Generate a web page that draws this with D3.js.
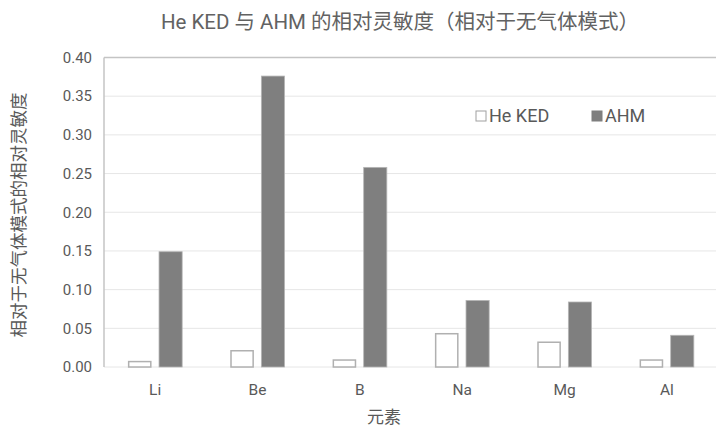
<!DOCTYPE html>
<html>
<head>
<meta charset="utf-8">
<script src="https://cdn.jsdelivr.net/npm/d3@7"></script>
<style>
  body { margin: 0; background: #fff; }
  text { font-family: Roboto, "Noto Sans CJK SC", sans-serif; fill: #595959; }
</style>
</head>
<body>
<div id="chart"></div>
<script>
// data
let elements = ["Li", "Be", "B", "Na", "Mg", "Al"];
let heKed = [0.007, 0.021, 0.009, 0.043, 0.032, 0.009];
let ahm = [0.149, 0.376, 0.258, 0.086, 0.084, 0.041];
let seriesNames = ["He KED", "AHM"];
let yTicks = [0, 0.05, 0.10, 0.15, 0.20, 0.25, 0.30, 0.35, 0.40];

let width = 716;
let height = 426;
let margin = { top: 57.5, right: -2, bottom: 59, left: 104 };

let svg = d3.select("#chart")
    .append("svg")
    .attr("width", width)
    .attr("height", height);

let innerW = width - margin.left - margin.right;
let innerH = height - margin.top - margin.bottom;

let g = svg.append("g")
    .attr("transform", "translate(" + margin.left + "," + margin.top + ")");

let x = d3.scaleBand()
    .domain(elements)
    .range([0, innerW]);

let x1 = d3.scaleBand()
    .domain(seriesNames)
    .range([0, 54])
    .paddingInner(0.25);

let y = d3.scaleLinear()
    .domain([0, 0.4])
    .range([innerH, 0]);

// gridlines
g.selectAll(".grid")
    .data(yTicks)
    .enter()
    .append("line")
    .attr("x1", 0)
    .attr("x2", innerW)
    .attr("y1", d => y(d))
    .attr("y2", d => y(d))
    .style("stroke", d => d === 0.4 ? "#c4c4c4" : "#e6e6e6")
    .style("stroke-width", d => d === 0.4 ? 1.5 : 1);

// left border
g.append("line")
    .attr("x1", 0).attr("x2", 0)
    .attr("y1", 0).attr("y2", innerH)
    .style("stroke", "#c4c4c4")
    .style("stroke-width", 1.5);

// y tick labels
g.append("g")
    .attr("transform", "translate(-12,0)")
    .selectAll("text")
    .data(yTicks)
    .enter()
    .append("text")
    .attr("y", d => y(d))
    .attr("dy", "0.35em")
    .attr("text-anchor", "end")
    .style("font-size", "15px")
    .text(d => d.toFixed(2));

// x tick labels
g.append("g")
    .selectAll("text")
    .data(elements)
    .enter()
    .append("text")
    .attr("x", d => x(d) + x.bandwidth() / 2)
    .attr("y", innerH + 28)
    .attr("text-anchor", "middle")
    .style("font-size", "15.5px")
    .text(d => d);

// bars
let groups = g.selectAll(".grp")
    .data(elements)
    .enter()
    .append("g")
    .attr("transform", d => "translate(" + (x(d) + x.bandwidth() / 2 - 27) + ",0)");

groups.append("rect")
    .attr("x", x1("He KED") + 0.5)
    .attr("y", (d, i) => y(heKed[i]))
    .attr("width", x1.bandwidth() - 1)
    .attr("height", (d, i) => innerH - y(heKed[i]))
    .style("fill", "#fff")
    .style("stroke", "#b0b0b0")
    .style("stroke-width", 1.5);

groups.append("rect")
    .attr("x", x1("AHM"))
    .attr("y", (d, i) => y(ahm[i]))
    .attr("width", x1.bandwidth())
    .attr("height", (d, i) => innerH - y(ahm[i]))
    .style("fill", "#7f7f7f")
    .style("stroke", "#b5b5b5")
    .style("stroke-width", 0.8);

// legend
let legend = svg.append("g");
let legendX = [476, 592];
seriesNames.forEach((name, i) => {
    legend.append("rect")
        .attr("x", legendX[i])
        .attr("y", 111)
        .attr("width", 10)
        .attr("height", 10)
        .style("fill", i === 0 ? "#fff" : "#7f7f7f")
        .style("stroke", i === 0 ? "#a0a0a0" : "#7f7f7f");
    legend.append("text")
        .attr("x", legendX[i] + 13)
        .attr("y", 116)
        .attr("dy", "0.35em")
        .style("font-size", "18px")
        .text(name);
});

// title
svg.append("text")
    .attr("x", 400)
    .attr("y", 29)
    .attr("text-anchor", "middle")
    .style("font-size", "20.5px")
    .style("fill", "#626262")
    .text("He KED 与 AHM 的相对灵敏度（相对于无气体模式）");

// axis titles
svg.append("text")
    .attr("text-anchor", "middle")
    .attr("transform", "rotate(-90)")
    .attr("x", -215)
    .attr("y", 25)
    .style("font-size", "17.5px")
    .text("相对于无气体模式的相对灵敏度");

svg.append("text")
    .attr("text-anchor", "middle")
    .attr("x", 384)
    .attr("y", 423)
    .style("font-size", "17px")
    .text("元素");
</script>
</body>
</html>
